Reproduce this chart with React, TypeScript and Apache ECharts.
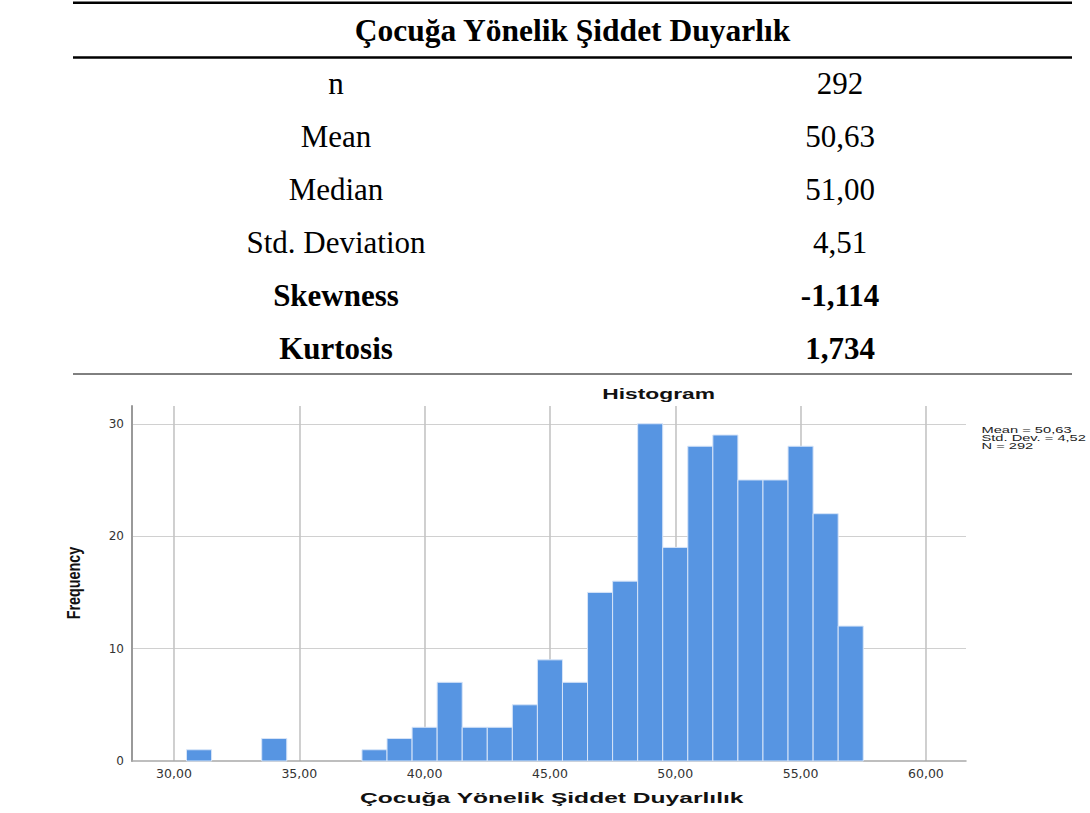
import React, { useEffect, useRef } from 'react';
import * as echarts from 'echarts';

// ---- data ----
const binCenters = [31, 34, 38, 39, 40, 41, 42, 43, 44, 45, 46, 47, 48, 49, 50, 51, 52, 53, 54, 55, 56, 57];
const frequencies = [1, 2, 1, 2, 3, 7, 3, 3, 5, 9, 7, 15, 16, 30, 19, 28, 29, 25, 25, 28, 22, 12];
const statLabels = ['n', 'Mean', 'Median', 'Std. Deviation', 'Skewness', 'Kurtosis'];
const statValues = ['292', '50,63', '51,00', '4,51', '-1,114', '1,734'];
const boldRows = [false, false, false, false, true, true];
const legendLines = ['Mean = 50,63', 'Std. Dev. = 4,52', 'N = 292'];
const tableTitle = 'Çocuğa Yönelik Şiddet Duyarlık';
const chartTitle = 'Histogram';
const xAxisTitle = 'Çocuğa Yönelik Şiddet Duyarlılık';
const yAxisTitle = 'Frequency';

const SERIF = '"Liberation Serif", "Times New Roman", serif';
const SANS = '"Liberation Sans", Arial, sans-serif';
const WIDE = '"DejaVu Sans", Verdana, sans-serif';

export default function App() {
  const ref = useRef<HTMLDivElement>(null);

  useEffect(() => {
    if (!ref.current) return;
    const chart = echarts.init(ref.current, null, { renderer: 'svg' });

    const graphic: any[] = [
      { type: 'line', shape: { x1: 73, y1: 2.8, x2: 1072, y2: 2.8 }, style: { stroke: '#000', lineWidth: 2.5 } },
      { type: 'line', shape: { x1: 73, y1: 57.5, x2: 1072, y2: 57.5 }, style: { stroke: '#000', lineWidth: 2.5 } },
      { type: 'line', shape: { x1: 73, y1: 374, x2: 1072, y2: 374 }, style: { stroke: '#000', lineWidth: 1 } },
      {
        type: 'text', x: 572.5, y: 30,
        style: { text: tableTitle, font: `bold 31.5px ${SERIF}`, fill: '#000', textAlign: 'center', textVerticalAlign: 'middle' },
      },
    ];
    statLabels.forEach((lab, i) => {
      const y = 83.8 + i * 53;
      const weight = boldRows[i] ? 'bold ' : '';
      graphic.push({
        type: 'text', x: 336, y,
        style: { text: lab, font: `${weight}31px ${SERIF}`, fill: '#000', textAlign: 'center', textVerticalAlign: 'middle' },
      });
      graphic.push({
        type: 'text', x: 840, y,
        style: { text: statValues[i], font: `${weight}31px ${SERIF}`, fill: '#000', textAlign: 'center', textVerticalAlign: 'middle' },
      });
    });
    graphic.push({
      type: 'text', x: 658.6, y: 394.6, scaleX: 1.63,
      style: { text: chartTitle, font: `bold 14px ${SANS}`, fill: '#111', textAlign: 'center', textVerticalAlign: 'middle' },
    });
    graphic.push({
      type: 'text', x: 551.8, y: 797.5, scaleX: 1.64,
      style: { text: xAxisTitle, font: `bold 15px ${SANS}`, fill: '#111', textAlign: 'center', textVerticalAlign: 'middle' },
    });
    graphic.push({
      type: 'text', x: 73.2, y: 583, rotation: Math.PI / 2, scaleY: 1.25,
      style: { text: yAxisTitle, font: `bold 14.4px ${SANS}`, fill: '#111', textAlign: 'center', textVerticalAlign: 'middle' },
    });
    legendLines.forEach((t, i) => {
      graphic.push({
        type: 'text', x: 981.5, y: 429.6 + i * 8.2, scaleX: 1.63,
        style: { text: t, font: `9px ${SANS}`, fill: '#222', textAlign: 'left', textVerticalAlign: 'middle' },
      });
    });

    const fmt = (v: number) => v.toFixed(2).replace('.', ',');

    chart.setOption({
      animation: false,
      backgroundColor: '#ffffff',
      grid: { left: 132, right: 124, top: 406, bottom: 52, containLabel: false },
      xAxis: {
        type: 'value',
        min: 28.325,
        max: 61.6,
        splitNumber: 6,
        minInterval: 5,
        maxInterval: 5,
        axisLine: { show: true, onZero: false, lineStyle: { color: '#a9a9a9', width: 1.5 } },
        axisTick: { show: false },
        axisLabel: {
          showMinLabel: false,
          showMaxLabel: false,
          formatter: fmt,
          fontFamily: WIDE,
          fontSize: 12.5,
          color: '#333',
          margin: 6,
        },
        splitLine: { show: true, showMinLine: false, showMaxLine: false, lineStyle: { color: '#c4c4c4', width: 1.6 } },
      },
      yAxis: {
        type: 'value',
        min: 0,
        max: 31.58,
        interval: 10,
        axisLine: { show: true, onZero: false, lineStyle: { color: '#999', width: 2 } },
        axisTick: { show: false },
        axisLabel: {
          showMaxLabel: false,
          fontFamily: WIDE,
          fontSize: 12,
          color: '#333',
          margin: 8,
        },
        splitLine: { show: true, showMinLine: false, showMaxLine: false, lineStyle: { color: '#d0d0d0', width: 1.2 } },
      },
      series: [
        {
          type: 'custom',
          data: binCenters.map((c, i) => [c, frequencies[i]]),
          encode: { x: 0, y: 1 },
          renderItem: (params: any, api: any) => {
            const c = api.value(0);
            const f = api.value(1);
            const p0 = api.coord([c - 0.5, f]);
            const p1 = api.coord([c + 0.5, 0]);
            return {
              type: 'rect',
              shape: { x: p0[0], y: p0[1], width: p1[0] - p0[0], height: p1[1] - p0[1] },
              style: { fill: '#5795e2', stroke: '#d6e4f8', lineWidth: 1 },
            };
          },
        },
      ],
      graphic,
    });

    return () => chart.dispose();
  }, []);

  return (
    <div
      ref={ref}
      style={{ position: 'absolute', left: 0, top: 0, width: 1090, height: 813, background: '#fff' }}
    />
  );
}
